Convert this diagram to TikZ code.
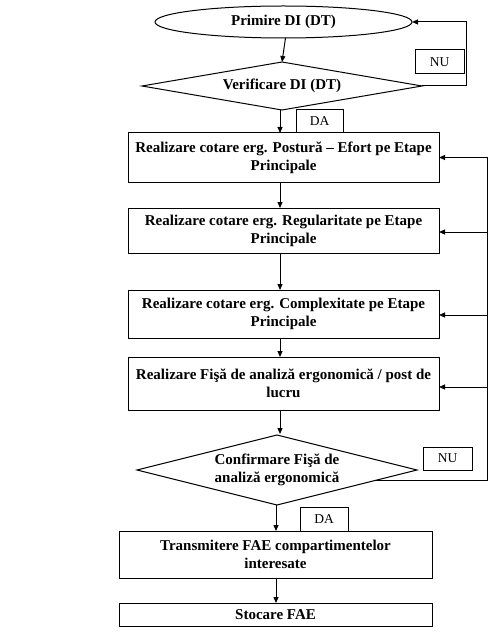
\documentclass[tikz,border=0pt]{standalone}
\usepackage{fontspec}
\setmainfont{Liberation Serif}
\usetikzlibrary{shapes.geometric,arrows.meta,calc}
\begin{document}
\begin{tikzpicture}[x=1pt,y=-1pt,line width=1pt,
  box/.style={draw,rectangle,inner sep=0pt,outer sep=0pt,minimum width=311pt,align=center,font=\fontsize{15}{18}\selectfont\bfseries},
  lbl/.style={draw,rectangle,inner sep=0pt,outer sep=0pt,minimum width=48pt,minimum height=23pt,font=\fontsize{13.5}{15}\selectfont},
  dia/.style={draw,diamond,inner sep=0pt,outer sep=0pt,minimum width=280pt,align=center,font=\fontsize{15}{18}\selectfont\bfseries},
  arr/.style={-{Triangle[length=6pt,width=5pt]}}]
\useasboundingbox (0,0) rectangle (489,639);
% nodes
\node[draw,ellipse,inner sep=0pt,outer sep=0pt,minimum width=257pt,minimum height=32pt,font=\fontsize{15}{18}\selectfont\bfseries] (e) at (283.5,22) {Primire DI (DT)};
\node[dia,minimum height=48pt,aspect=5.8] (d1) at (282,86) {Verificare DI (DT)};
\node[lbl,minimum width=49pt,minimum height=24pt] (nu1) at (439.5,62) {NU};
\node[lbl,minimum width=47pt] (da1) at (319.5,121.5) {DA};
\node[box,minimum height=49pt] (b1) at (283.5,157.5) {Realizare cotare erg. Postură – Efort pe Etape\\Principale};
\node[box,minimum height=45pt] (b2) at (283.5,230.5) {Realizare cotare erg. Regularitate pe Etape\\Principale};
\node[box,minimum height=48pt] (b3) at (283.5,314) {Realizare cotare erg. Complexitate pe Etape\\Principale};
\node[box,minimum height=53pt] (b4) at (283.5,383.5) {Realizare Fişă de analiză ergonomică / post de\\lucru};
\node[dia,minimum height=70pt,aspect=4] (d2) at (277,470) {Confirmare Fişă de\\analiză ergonomică};
\node[lbl,minimum width=49pt] (nu2) at (447.5,458.5) {NU};
\node[lbl,minimum height=24pt] (da2) at (324,519) {DA};
\node[box,minimum width=313pt,minimum height=47pt] (b5) at (275.5,554.5) {Transmitere FAE compartimentelor\\interesate};
\node[box,minimum width=313pt,minimum height=23pt] (b6) at (275.5,614.5) {Stocare FAE};
% main flow
\draw[arr] ([xshift=2pt]e.south) -- (d1.north);
\draw[arr] ([xshift=-2pt]d1.south) -- ([xshift=-3.5pt]b1.north);
\draw[arr] ([xshift=-3.5pt]b1.south) -- ([xshift=-3.5pt]b2.north);
\draw[arr] ([xshift=-3.5pt]b2.south) -- ([xshift=-3.5pt]b3.north);
\draw[arr] ([xshift=-3.5pt]b3.south) -- ([xshift=-3.5pt]b4.north);
\draw[arr] ([xshift=-3.5pt]b4.south) -- ([xshift=-3.5pt,yshift=1pt]b4.south |- d2.north);
\draw[arr] ([xshift=-1pt]d2.south) -- ([xshift=-1pt]d2.south |- b5.north);
\draw[arr] ([xshift=-1pt]d2.south |- b5.south) -- ([xshift=-1pt]d2.south |- b6.north);
% top feedback
\coordinate (t1) at (466,86);
\coordinate (t2) at (466,22);
\draw[arr] (d1.east) -- (t1) -- (t2) -- (e.east);
% right feedback
\coordinate (f0) at ($(d2.east)!0.3!(d2.south)$);
\coordinate (f1) at (487,0 |- f0);
\coordinate (f2) at (487,157.5);
\draw (f0) -- (f1) -- (f2);
\coordinate (r2) at (487,232);
\coordinate (r3) at (487,315);
\coordinate (r4) at (487,387);
\draw[arr] (f2) -- (b1.east);
\draw[arr] (r2) -- (r2 -| b2.east);
\draw[arr] (r3) -- (r3 -| b3.east);
\draw[arr] (r4) -- (r4 -| b4.east);
\end{tikzpicture}
\end{document}
